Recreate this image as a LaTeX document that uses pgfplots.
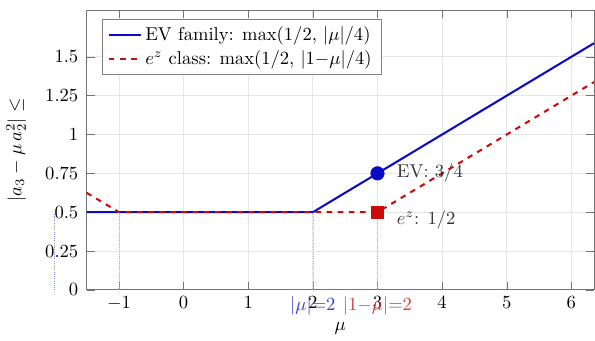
\documentclass[border=0pt]{standalone}
\usepackage{pgfplots}
\pgfplotsset{compat=1.18}
\definecolor{evblue}{RGB}{10,10,200}
\definecolor{ezred}{RGB}{205,10,10}
\begin{document}
\begin{tikzpicture}
\begin{axis}[
  scale only axis,
  width=273pt, height=150.5pt,
  xmin=-1.5, xmax=6.35,
  ymin=0, ymax=1.8,
  xtick={-1,0,1,2,3,4,5,6},
  ytick={0,0.25,0.5,0.75,1,1.25,1.5},
  yticklabels={0,0.25,0.5,0.75,1,1.25,1.5},
  yticklabel style={xshift=-1pt},
  grid=major,
  grid style={black!10},
  axis line style={black!55},
  tick style={black!55},
  xlabel={$\mu$},
  ylabel={$|a_3-\mu\, a_2^2|\le$},
  ylabel shift=3.5pt,
  clip=false,
  legend cell align=left,
  legend style={draw=black!50, font=\normalsize, at={(0.03,0.97)}, anchor=north west},
]
\addplot[evblue, line width=1.1pt] coordinates {(-1.5,0.5) (2,0.5) (6.35,1.5875)};
\addlegendentry{EV family: $\max(1/2,\,|\mu|/4)$}
\addplot[ezred, line width=1.1pt, dashed] coordinates {(-1.5,0.625) (-1,0.5) (3,0.5) (6.35,1.3375)};
\addlegendentry{$e^z$ class: $\max(1/2,\,|1{-}\mu|/4)$}
% dotted guide lines
\addplot[evblue!50, densely dotted, very thin, forget plot] coordinates {(-2,0) (-2,0.5)};
\addplot[evblue!35, densely dotted, very thin, forget plot] coordinates {(2,0) (2,0.5)};
\addplot[ezred!40, densely dotted, very thin, forget plot] coordinates {(-1,0) (-1,0.5)};
\addplot[ezred!40, densely dotted, very thin, forget plot] coordinates {(3,0) (3,0.5)};
% marks
\addplot[only marks, mark=*, mark size=3.6pt, evblue, forget plot] coordinates {(3,0.75)};
\addplot[only marks, mark=square*, mark size=3.3pt, ezred, forget plot] coordinates {(3,0.5)};
\node[anchor=west, text=black!80] at (axis cs:3.2,0.75) {EV: $3/4$};
\node[anchor=west, text=black!80] at (axis cs:3.2,0.45) {$e^z$: $1/2$};
\node[anchor=north, text=evblue!80] at (axis cs:2,0) {$|\mu|{=}2$};
\node[anchor=north, text=ezred!80] at (axis cs:3,0) {$|1{-}\mu|{=}2$};
\end{axis}
\path (current axis.north) ++(0,5.5pt);
\end{tikzpicture}
\end{document}
